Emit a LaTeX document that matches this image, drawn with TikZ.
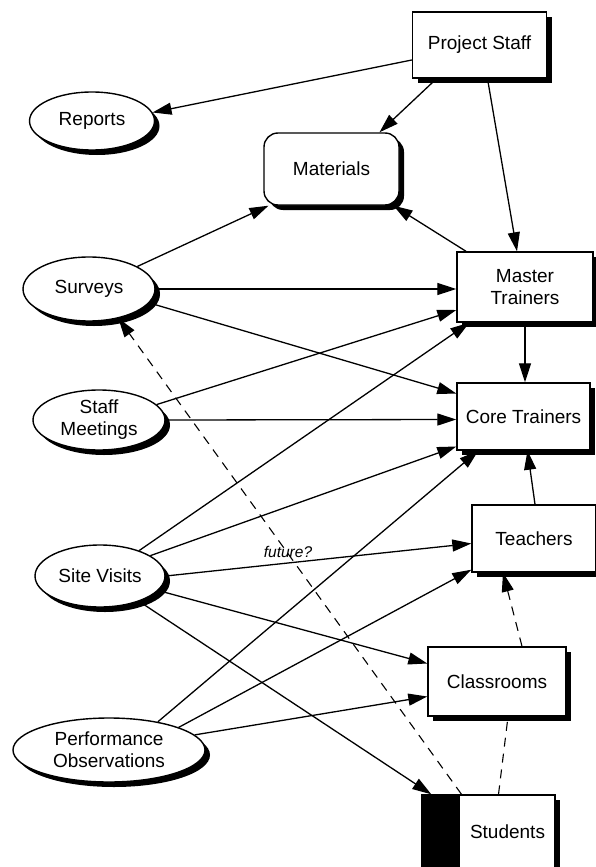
\documentclass[tikz,border=0pt]{standalone}
\usepackage{fontspec}
\setmainfont{Liberation Sans}
\usetikzlibrary{shapes.geometric,arrows.meta,shadows}
\begin{document}
\begin{tikzpicture}[x=1pt,y=-1pt,
  shad/.style={general shadow={fill=black, shadow xshift=5pt, shadow yshift=-5pt}},
  box/.style={draw, line width=1.4pt, fill=white, shad, inner sep=0pt, align=center,
    font=\fontsize{19}{22}\selectfont},
  ell/.style={ellipse, draw, line width=1.4pt, fill=white, shad, inner sep=0pt, align=center,
    font=\fontsize{19}{22}\selectfont},
  arr/.style={line width=1.3pt, -{Triangle[length=19pt,width=12pt]}},
  dsh/.style={line width=1.1pt, dash pattern=on 9pt off 7pt},
  lbl/.style={font=\itshape\fontsize{15.5}{18}\selectfont, inner sep=0pt}]
\useasboundingbox (0,0) rectangle (596,867);
\fill[white] (0,0) rectangle (596,867);

\node[box, minimum width=134pt, minimum height=66pt] (ps) at (479.5,45) {Project Staff};
\node[ell, minimum width=125pt, minimum height=58pt] (rep) at (92,121) {Reports};
\node[box, rounded corners=14pt, minimum width=135pt, minimum height=72pt] (mat) at (331.5,169) {Materials};
\node[ell, minimum width=132pt, minimum height=64pt] (sur) at (89,289) {Surveys};
\node[box, minimum width=136pt, minimum height=70pt] (mt) at (525,287) {Master\\Trainers};
\node[ell, minimum width=132pt, minimum height=60pt] (sm) at (99,420) {Staff\\Meetings};
\node[box, minimum width=133pt, minimum height=67pt] (ct) at (523.5,416.5) {Core Trainers};
\node[ell, minimum width=130pt, minimum height=62pt] (sv) at (100,576) {Site Visits};
\node[box, minimum width=124pt, minimum height=67pt] (te) at (534,538.5) {Teachers};
\node[box, minimum width=138pt, minimum height=69pt] (cl) at (497,681.5) {Classrooms};
\node[box, minimum width=133pt, minimum height=74pt,
  path picture={\fill[black] (path picture bounding box.north west) rectangle ([xshift=38pt]path picture bounding box.south west);}]
  (st) at (488.5,832) {\hspace*{38pt}Students};
\node[ell, minimum width=192pt, minimum height=64pt] (po) at (109,750) {Performance\\Observations};

% connectors
\draw[arr] ([yshift=-15pt]ps.west) -- (rep.8);
\draw[arr] ([xshift=-43pt]ps.south) -- ([xshift=48pt]mat.north);
\draw[arr] ([xshift=8pt]ps.south) -- ([xshift=-8pt]mt.north);
\draw[arr] ([xshift=-59pt]mt.north) -- ([xshift=62pt]mat.south);
\draw[arr] (sur.25) -- ([xshift=-63pt]mat.south);
\draw[arr] (sur.east) -- (sur.east -| mt.west);
\draw[arr] (sur.-13) -- ([yshift=23pt]ct.west);
\draw[arr] (sm.15) -- ([yshift=-23pt]mt.west);
\draw[arr] (sm.east) -- ([yshift=-3pt]ct.west);
\draw[arr] (sv.33) -- ([xshift=13pt]mt.south west);
\draw[arr] (sv.22) -- ([yshift=-30pt]ct.west);
\draw[arr] (sv.east) -- ([yshift=-5pt]te.west);
\draw[arr] (sv.-14) -- ([yshift=18pt]cl.west);
\draw[arr] (sv.-33) -- ([xshift=10pt]st.north west);
\draw[arr] (po.30) -- ([xshift=22pt]ct.south west);
\draw[arr] (po.18) -- ([yshift=3pt]te.south west);
\draw[arr] (po.10) -- ([yshift=-15pt]cl.west);
\draw[arr] (mt.south) -- (mt.south |- ct.north);
\draw[arr] ([xshift=1pt]te.north) -- ([xshift=4pt]ct.south);
\draw[dsh, -{Triangle[length=19pt,width=12pt]}] ([xshift=25pt]cl.north) -- ([xshift=-31pt]te.south);
\draw[dsh] ([xshift=10pt]st.north) -- ([xshift=11pt]cl.south);
\draw[dsh, -{Triangle[length=19pt,width=12pt]}] ([xshift=-27pt]st.north) -- (sur.-45);

\node[lbl] (fut) at (288,552) {future?};
\end{tikzpicture}
\end{document}
